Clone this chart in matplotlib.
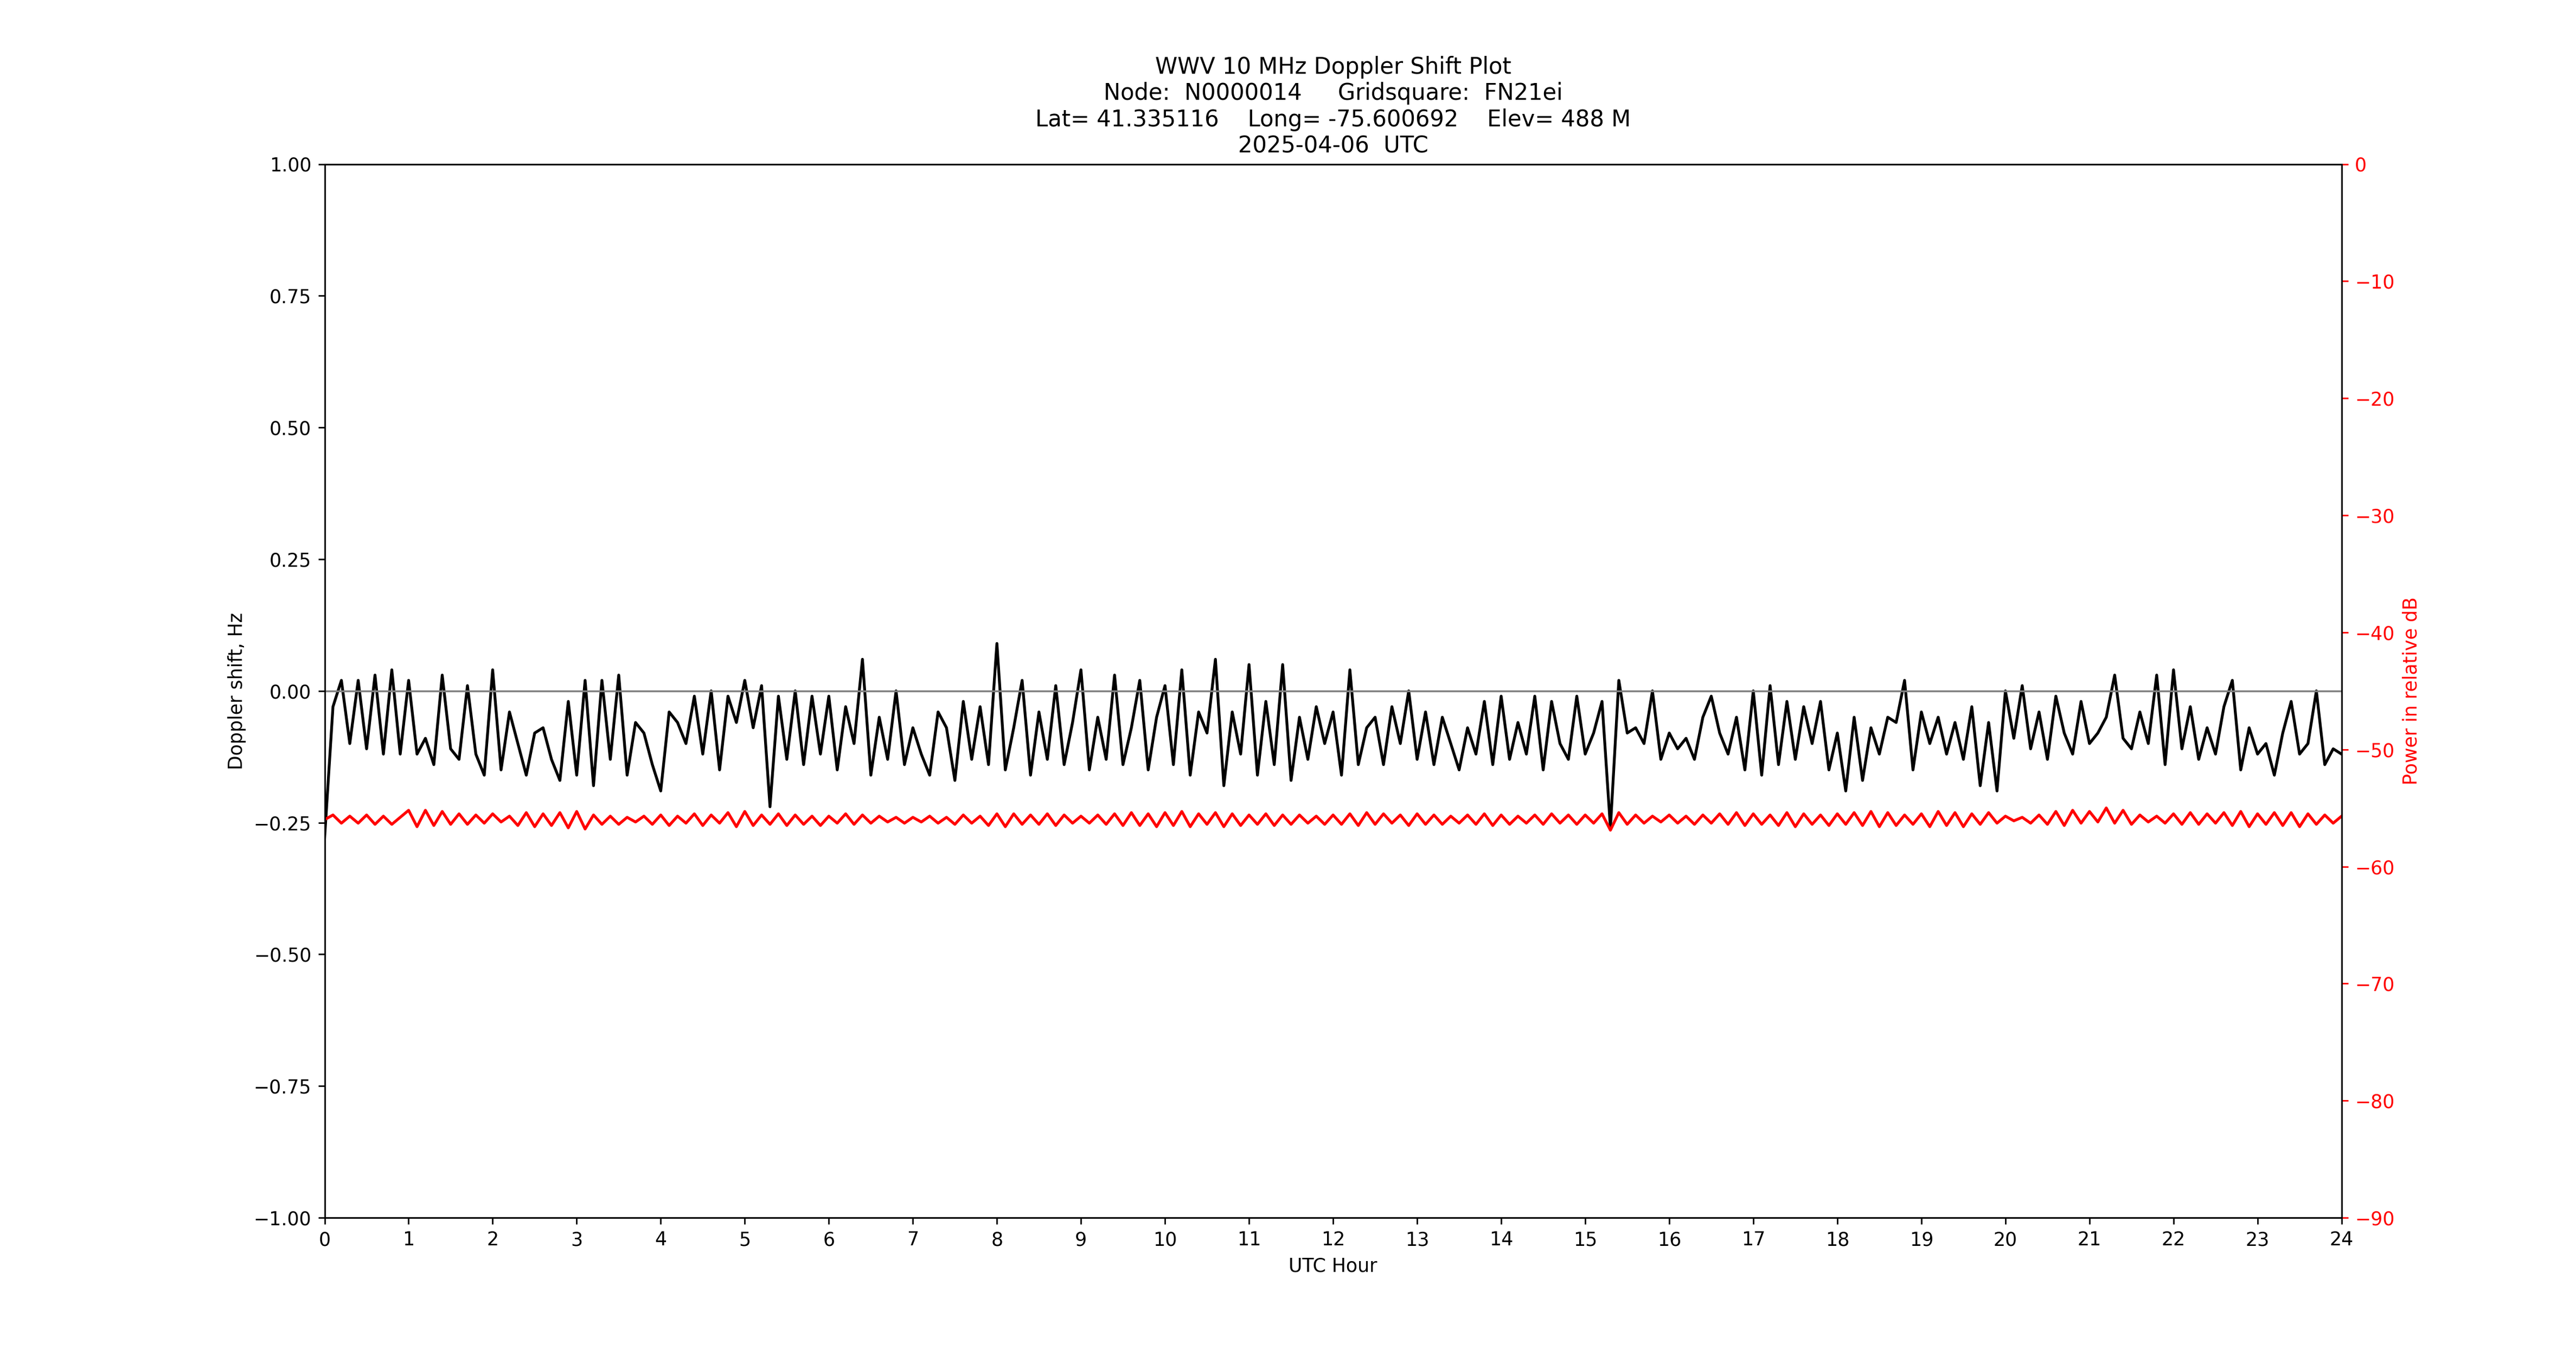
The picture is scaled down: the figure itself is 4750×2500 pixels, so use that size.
import matplotlib
matplotlib.use("Agg")
import matplotlib.pyplot as plt
import numpy as np

hours = [i * 0.1 for i in range(241)]
doppler = [
 -0.28,-0.03,0.02,-0.10,0.02,-0.11,0.03,-0.12,0.04,-0.12,
 0.02,-0.12,-0.09,-0.14,0.03,-0.11,-0.13,0.01,-0.12,-0.16,
 0.04,-0.15,-0.04,-0.10,-0.16,-0.08,-0.07,-0.13,-0.17,-0.02,
 -0.16,0.02,-0.18,0.02,-0.13,0.03,-0.16,-0.06,-0.08,-0.14,
 -0.19,-0.04,-0.06,-0.10,-0.01,-0.12,0.00,-0.15,-0.01,-0.06,
 0.02,-0.07,0.01,-0.22,-0.01,-0.13,0.00,-0.14,-0.01,-0.12,
 -0.01,-0.15,-0.03,-0.10,0.06,-0.16,-0.05,-0.13,0.00,-0.14,
 -0.07,-0.12,-0.16,-0.04,-0.07,-0.17,-0.02,-0.13,-0.03,-0.14,
 0.09,-0.15,-0.07,0.02,-0.16,-0.04,-0.13,0.01,-0.14,-0.06,
 0.04,-0.15,-0.05,-0.13,0.03,-0.14,-0.07,0.02,-0.15,-0.05,
 0.01,-0.14,0.04,-0.16,-0.04,-0.08,0.06,-0.18,-0.04,-0.12,
 0.05,-0.16,-0.02,-0.14,0.05,-0.17,-0.05,-0.13,-0.03,-0.10,
 -0.04,-0.16,0.04,-0.14,-0.07,-0.05,-0.14,-0.03,-0.10,0.00,
 -0.13,-0.04,-0.14,-0.05,-0.10,-0.15,-0.07,-0.12,-0.02,-0.14,
 -0.01,-0.13,-0.06,-0.12,-0.01,-0.15,-0.02,-0.10,-0.13,-0.01,
 -0.12,-0.08,-0.02,-0.26,0.02,-0.08,-0.07,-0.10,0.00,-0.13,
 -0.08,-0.11,-0.09,-0.13,-0.05,-0.01,-0.08,-0.12,-0.05,-0.15,
 0.00,-0.16,0.01,-0.14,-0.02,-0.13,-0.03,-0.10,-0.02,-0.15,
 -0.08,-0.19,-0.05,-0.17,-0.07,-0.12,-0.05,-0.06,0.02,-0.15,
 -0.04,-0.10,-0.05,-0.12,-0.06,-0.13,-0.03,-0.18,-0.06,-0.19,
 0.00,-0.09,0.01,-0.11,-0.04,-0.13,-0.01,-0.08,-0.12,-0.02,
 -0.10,-0.08,-0.05,0.03,-0.09,-0.11,-0.04,-0.10,0.03,-0.14,
 0.04,-0.11,-0.03,-0.13,-0.07,-0.12,-0.03,0.02,-0.15,-0.07,
 -0.12,-0.10,-0.16,-0.08,-0.02,-0.12,-0.10,0.00,-0.14,-0.11,
 -0.12,
]
power = [
 -56.0,-55.6,-56.3,-55.7,-56.3,-55.6,-56.4,-55.7,-56.4,-55.8,
 -55.2,-56.6,-55.2,-56.5,-55.3,-56.4,-55.5,-56.4,-55.6,-56.3,
 -55.5,-56.2,-55.7,-56.5,-55.4,-56.6,-55.5,-56.5,-55.4,-56.7,
 -55.3,-56.8,-55.6,-56.4,-55.7,-56.4,-55.8,-56.2,-55.7,-56.4,
 -55.6,-56.5,-55.7,-56.3,-55.5,-56.5,-55.6,-56.3,-55.4,-56.6,
 -55.3,-56.5,-55.6,-56.4,-55.5,-56.5,-55.6,-56.4,-55.7,-56.5,
 -55.7,-56.3,-55.5,-56.4,-55.6,-56.3,-55.7,-56.2,-55.8,-56.3,
 -55.8,-56.2,-55.7,-56.3,-55.8,-56.4,-55.6,-56.3,-55.7,-56.5,
 -55.5,-56.6,-55.5,-56.4,-55.6,-56.4,-55.5,-56.5,-55.6,-56.3,
 -55.7,-56.3,-55.6,-56.4,-55.5,-56.5,-55.4,-56.5,-55.5,-56.6,
 -55.4,-56.5,-55.3,-56.6,-55.5,-56.4,-55.4,-56.6,-55.5,-56.5,
 -55.6,-56.4,-55.5,-56.5,-55.6,-56.4,-55.6,-56.3,-55.7,-56.4,
 -55.6,-56.4,-55.5,-56.5,-55.4,-56.4,-55.5,-56.3,-55.6,-56.5,
 -55.5,-56.4,-55.6,-56.4,-55.7,-56.3,-55.6,-56.4,-55.5,-56.5,
 -55.6,-56.4,-55.7,-56.3,-55.6,-56.4,-55.5,-56.3,-55.6,-56.4,
 -55.6,-56.3,-55.5,-56.9,-55.4,-56.4,-55.6,-56.3,-55.7,-56.2,
 -55.6,-56.3,-55.7,-56.4,-55.6,-56.3,-55.5,-56.4,-55.4,-56.5,
 -55.5,-56.4,-55.6,-56.5,-55.4,-56.6,-55.5,-56.4,-55.6,-56.5,
 -55.5,-56.4,-55.4,-56.5,-55.3,-56.6,-55.4,-56.5,-55.6,-56.4,
 -55.5,-56.6,-55.3,-56.5,-55.4,-56.6,-55.5,-56.4,-55.4,-56.3,
 -55.7,-56.1,-55.8,-56.3,-55.6,-56.4,-55.3,-56.5,-55.2,-56.3,
 -55.3,-56.2,-55.0,-56.3,-55.2,-56.4,-55.6,-56.2,-55.7,-56.3,
 -55.5,-56.4,-55.4,-56.4,-55.5,-56.3,-55.4,-56.5,-55.3,-56.6,
 -55.5,-56.4,-55.4,-56.5,-55.4,-56.6,-55.5,-56.4,-55.6,-56.3,
 -55.7,
]

fig = plt.figure(figsize=(19, 10), dpi=250)
ax = fig.add_subplot(111)
fig.subplots_adjust(left=0.126, right=0.909, bottom=0.102, top=0.879)
ax.plot(hours, doppler, color="black", lw=1.5)
ax.axhline(0, color="grey", lw=1)
ax.set_xlim(0, 24)
ax.set_ylim(-1, 1)
ax.set_xticks(range(25))
ax.set_xlabel("UTC Hour")
ax.set_ylabel("Doppler shift, Hz")
ax.set_title("WWV 10 MHz Doppler Shift Plot\nNode:  N0000014     Gridsquare:  FN21ei\n"
             "Lat= 41.335116    Long= -75.600692    Elev= 488 M\n2025-04-06  UTC")
ax2 = ax.twinx()
ax2.plot(hours, power, color="red", lw=1.5)
ax2.set_ylim(-90, 0)
ax2.set_ylabel("Power in relative dB", color="red")
ax2.tick_params(axis="y", colors="red")
fig.savefig("out.png", dpi=250)
